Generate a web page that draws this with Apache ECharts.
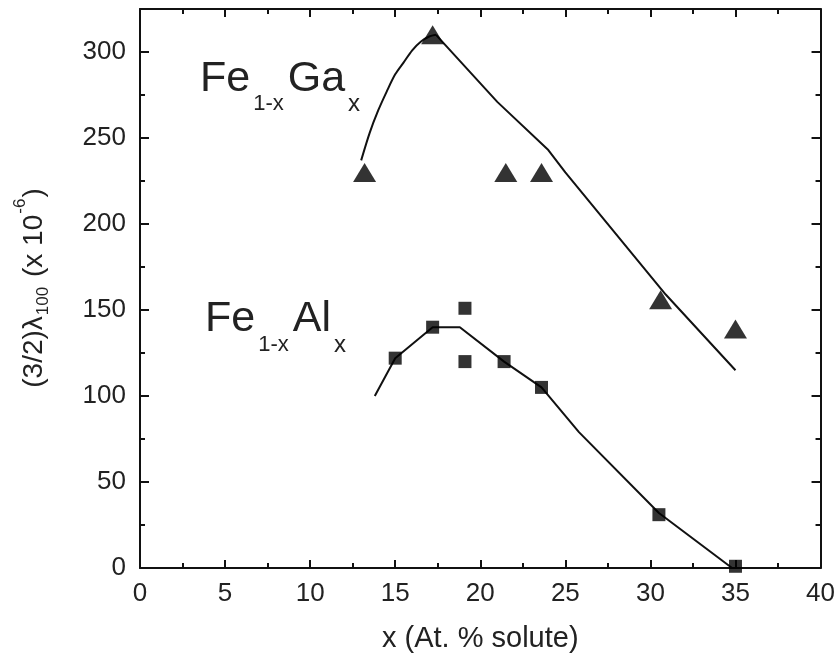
<!DOCTYPE html>
<html>
<head>
<meta charset="utf-8">
<script src="https://cdn.jsdelivr.net/npm/echarts@6/dist/echarts.min.js"></script>
<style>
html,body{margin:0;padding:0;background:#fff;}
#chart{width:838px;height:660px;}
</style>
</head>
<body>
<div id="chart"></div>
<script>
// Measured points (triangles): Fe(1-x)Ga(x)
const gaX = [13.2, 17.2, 21.5, 23.6, 30.6, 35.0];
const gaY = [230, 310, 230, 230, 156, 139];
// Fit curve for Fe-Ga: rising (curved) branch and falling branch
const gaRiseX = [13.0, 13.5, 14.0, 14.5, 15.0, 15.5, 16.0, 16.5, 17.0, 17.4];
const gaRiseY = [237, 253, 266, 277, 287, 294, 301, 306, 309, 310];
const gaFallX = [17.4, 21.0, 24.0, 25.0, 30.9, 35.0];
const gaFallY = [310, 271, 243, 230, 159, 115];
// Measured points (squares): Fe(1-x)Al(x)
const alX = [15.0, 17.2, 19.1, 19.1, 21.4, 23.6, 30.5, 35.0];
const alY = [122, 140, 151, 120, 120, 105, 31, 1];
// Fit curve for Fe-Al
const alFitX = [13.8, 15.0, 17.2, 18.8, 21.4, 23.6, 25.8, 30.5, 34.8];
const alFitY = [100, 122, 140, 140, 120, 105, 79, 32, 0];

const xMin = 0, xMax = 40, xStep = 5;
const yMin = 0, yMax = 325, yStep = 50, yMinorStep = 25;

const xTitle = 'x (At. % solute)';
const gaLabel = '{a|Fe}{s|1-x}{a|Ga}{t|x}';
const alLabel = '{a|Fe}{s|1-x}{a|Al}{t|x}';
const yTitle = '{m|(3/2)λ}{b|100}{m| (x 10}{p|-6}{m|)}';

const zip = (xs, ys) => xs.map((v, i) => [v, ys[i]]);

const FONT = '"Liberation Sans", Arial, sans-serif';
const TXT = '#222';
const LINE = '#111';

const chart = echarts.init(document.getElementById('chart'), null, {renderer: 'canvas'});

function xAx(pos, showLabel) {
  return {
    type: 'value', position: pos, min: xMin, max: xMax, interval: xStep,
    axisLine: {show: true, onZero: false, lineStyle: {color: LINE, width: 2}},
    axisTick: {show: true, inside: true, length: 8, lineStyle: {color: LINE, width: 2}},
    minorTick: {show: true, splitNumber: 2, length: 5, lineStyle: {color: LINE, width: 2}},
    axisLabel: {show: showLabel, color: TXT, fontSize: 26, fontFamily: FONT, margin: 13},
    splitLine: {show: false},
    name: showLabel ? xTitle : '',
    nameLocation: 'middle', nameGap: 56,
    nameTextStyle: {color: TXT, fontSize: 29, fontFamily: FONT}
  };
}
function yAx(pos, step, len, showLine, showLabel) {
  return {
    type: 'value', position: pos, min: yMin, max: yMax, interval: step, offset: 0,
    axisLine: {show: showLine, onZero: false, lineStyle: {color: LINE, width: 2}},
    axisTick: {show: true, inside: true, length: len, lineStyle: {color: LINE, width: 2}},
    axisLabel: {show: showLabel, color: TXT, fontSize: 26, fontFamily: FONT, margin: 14,
      showMaxLabel: false,
      formatter: v => (v % yStep === 0 ? String(v) : '')},
    splitLine: {show: false}
  };
}

const lineStyle = {color: LINE, width: 2};

chart.setOption({
  animation: false,
  backgroundColor: '#fff',
  grid: {left: 140, right: 15, top: 9, bottom: 92, containLabel: false},
  xAxis: [xAx('bottom', true), xAx('top', false)],
  yAxis: [
    yAx('left', yStep, 9, true, true),
    yAx('left', yMinorStep, 5, false, false),
    yAx('right', yStep, 9, true, false),
    yAx('right', yMinorStep, 5, false, false)
  ],
  series: [
    {type: 'line', name: 'Fe-Ga fit (rise)', data: zip(gaRiseX, gaRiseY), smooth: 0.3,
      symbol: 'none', lineStyle: lineStyle, z: 2},
    {type: 'line', name: 'Fe-Ga fit (fall)', data: zip(gaFallX, gaFallY),
      symbol: 'none', lineStyle: lineStyle, z: 2},
    {type: 'line', name: 'Fe-Al fit', data: zip(alFitX, alFitY),
      symbol: 'none', lineStyle: lineStyle, z: 2},
    {type: 'scatter', name: 'Fe-Ga', data: zip(gaX, gaY),
      symbol: 'triangle', symbolSize: [23, 19], itemStyle: {color: '#000'}, z: 3},
    {type: 'scatter', name: 'Fe-Al', data: zip(alX, alY),
      symbol: 'rect', symbolSize: 13, itemStyle: {color: '#000'}, z: 3}
  ],
  graphic: [
    {type: 'text', x: 200, y: 58, z: 10, style: {
      text: gaLabel, align: 'left', verticalAlign: 'top', fill: TXT, fontFamily: FONT,
      rich: {
        a: {fontSize: 43, lineHeight: 43, verticalAlign: 'top', fontFamily: FONT, fill: TXT},
        s: {fontSize: 22, verticalAlign: 'top', fontFamily: FONT, fill: TXT, padding: [35, 4, 0, 3]},
        t: {fontSize: 24, verticalAlign: 'top', fontFamily: FONT, fill: TXT, padding: [34, 0, 0, 3]}
      }}},
    {type: 'text', x: 205, y: 298, z: 10, style: {
      text: alLabel, align: 'left', verticalAlign: 'top', fill: TXT, fontFamily: FONT,
      rich: {
        a: {fontSize: 43, lineHeight: 43, verticalAlign: 'top', fontFamily: FONT, fill: TXT},
        s: {fontSize: 22, verticalAlign: 'top', fontFamily: FONT, fill: TXT, padding: [36, 4, 0, 3]},
        t: {fontSize: 24, verticalAlign: 'top', fontFamily: FONT, fill: TXT, padding: [35, 0, 0, 3]}
      }}},
    {type: 'text', x: 10, y: 288, rotation: Math.PI / 2, z: 10, style: {
      text: yTitle, align: 'center', verticalAlign: 'top', fill: TXT, fontFamily: FONT,
      rich: {
        m: {fontSize: 28, verticalAlign: 'top', fontFamily: FONT, fill: TXT, padding: [10, 0, 0, 0]},
        b: {fontSize: 17, verticalAlign: 'top', fontFamily: FONT, fill: TXT, padding: [25, 2, 0, 1]},
        p: {fontSize: 17, verticalAlign: 'top', fontFamily: FONT, fill: TXT, padding: [2, 1, 0, 1]}
      }}}
  ]
});
</script>
</body>
</html>
